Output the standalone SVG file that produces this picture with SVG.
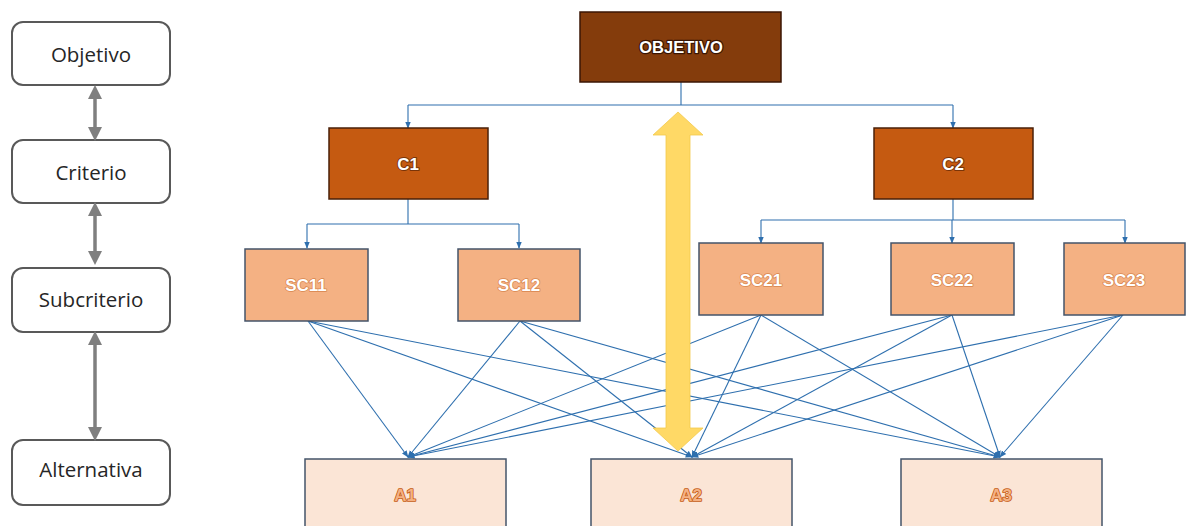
<svg xmlns="http://www.w3.org/2000/svg" width="1186" height="526" viewBox="0 0 1186 526">
<style>
.lvl{fill:#fff;stroke:#595959;stroke-width:2}
.lvlt{font-family:"Open Sans","Liberation Sans",sans-serif;font-size:20.5px;fill:#262626;text-anchor:middle}
.gar{stroke:#7f7f7f;stroke-width:3.5;fill:none;marker-start:url(#gh);marker-end:url(#gh)}
.obj{fill:#843c0c;stroke:#3b1604;stroke-width:1.5}
.crit{fill:#c55a11;stroke:#4a2008;stroke-width:1.5}
.sub{fill:#f4b183;stroke:#44546a;stroke-width:1.5}
.alt{fill:#fbe5d6;stroke:#44546a;stroke-width:1.5}
.wt{font-family:"Liberation Sans","Open Sans",sans-serif;font-weight:bold;fill:#fff;text-anchor:middle;paint-order:stroke;stroke-linejoin:round}
.at{font-family:"Liberation Sans",sans-serif;font-weight:bold;font-size:17px;fill:#f4b183;stroke:#c55a11;stroke-width:1.6;text-anchor:middle;paint-order:stroke;stroke-linejoin:round}
.bl{stroke:#2e6fae;stroke-width:1.1;fill:none}
.ba{stroke:#2e6fae;stroke-width:1.1;fill:none;marker-end:url(#bh)}
</style>
<defs>
<marker id="gh" viewBox="0 0 10 10" refX="5" refY="5" markerWidth="14" markerHeight="14" markerUnits="userSpaceOnUse" orient="auto-start-reverse">
<path d="M0,0 L10,5 L0,10 Z" fill="#7f7f7f"/>
</marker>
<marker id="bh" viewBox="0 0 10 10" refX="9" refY="5" markerWidth="7" markerHeight="7" markerUnits="userSpaceOnUse" orient="auto">
<path d="M0,1 L10,5 L0,9 Z" fill="#2e6fae"/>
</marker>
</defs>

<g id="legend-objetivo"><rect class="lvl" x="12" y="22" width="158" height="63" rx="11"/><text class="lvlt" x="91" y="62">Objetivo</text></g>
<g id="legend-criterio"><rect class="lvl" x="12" y="140" width="158" height="63" rx="11"/><text class="lvlt" x="91" y="180">Criterio</text></g>
<g id="legend-subcriterio"><rect class="lvl" x="12" y="268" width="158" height="64" rx="11"/><text class="lvlt" x="91" y="307">Subcriterio</text></g>
<g id="legend-alternativa"><rect class="lvl" x="12" y="440" width="158" height="65" rx="11"/><text class="lvlt" x="91" y="477">Alternativa</text></g>

<g id="legend-arrows">
<line class="gar" x1="95" y1="92" x2="95" y2="134"/>
<line class="gar" x1="95" y1="209" x2="95" y2="258"/>
<line class="gar" x1="95" y1="338" x2="95" y2="434"/>
</g>

<g id="connectors">
<path class="bl" d="M681,82 V105 M408,105 H953"/>
<path class="ba" d="M408,105 V128"/>
<path class="ba" d="M953,105 V128"/>
<path class="bl" d="M408,199 V224 M307,224 H519"/>
<path class="ba" d="M307,224 V248"/>
<path class="ba" d="M519,224 V248"/>
<path class="bl" d="M953,199 V220 M761,220 H1125"/>
<path class="ba" d="M761,220 V243"/>
<path class="ba" d="M952,220 V243"/>
<path class="ba" d="M1125,220 V243"/>
<line class="ba" x1="308" y1="321" x2="408" y2="457"/>
<line class="ba" x1="308" y1="321" x2="692" y2="457"/>
<line class="ba" x1="308" y1="321" x2="1000" y2="457"/>
<line class="ba" x1="520" y1="321" x2="408" y2="457"/>
<line class="ba" x1="520" y1="321" x2="692" y2="457"/>
<line class="ba" x1="520" y1="321" x2="1000" y2="457"/>
<line class="ba" x1="761" y1="315" x2="408" y2="457"/>
<line class="ba" x1="761" y1="315" x2="692" y2="457"/>
<line class="ba" x1="761" y1="315" x2="1000" y2="457"/>
<line class="ba" x1="952" y1="315" x2="408" y2="457"/>
<line class="ba" x1="952" y1="315" x2="692" y2="457"/>
<line class="ba" x1="952" y1="315" x2="1000" y2="457"/>
<line class="ba" x1="1123" y1="315" x2="408" y2="457"/>
<line class="ba" x1="1123" y1="315" x2="692" y2="457"/>
<line class="ba" x1="1123" y1="315" x2="1000" y2="457"/>
</g>

<g id="yellow-arrow">
<path d="M678,112 L703,135 L690,135 L690,428 L703,428 L678,451 L653,428 L666,428 L666,135 L653,135 Z" fill="#ffd966" stroke="#f2c94c" stroke-width="0.8"/>
</g>

<g id="objetivo"><rect class="obj" x="580" y="12" width="201" height="70"/><text class="wt" x="681" y="53" font-size="16.5" stroke="#3b1604" stroke-width="2.5">OBJETIVO</text></g>
<g id="c1"><rect class="crit" x="329" y="128" width="159" height="71"/><text class="wt" x="408" y="170" font-size="17" stroke="#7a3408" stroke-width="2">C1</text></g>
<g id="c2"><rect class="crit" x="874" y="128" width="159" height="71"/><text class="wt" x="953" y="170" font-size="17" stroke="#7a3408" stroke-width="2">C2</text></g>
<g id="sc11"><rect class="sub" x="245" y="249" width="123" height="72"/><text class="wt" x="306" y="291" font-size="17" stroke="#d9864e" stroke-width="1.5">SC11</text></g>
<g id="sc12"><rect class="sub" x="458" y="249" width="122" height="72"/><text class="wt" x="519" y="291" font-size="17" stroke="#d9864e" stroke-width="1.5">SC12</text></g>
<g id="sc21"><rect class="sub" x="699" y="243" width="124" height="72"/><text class="wt" x="761" y="286" font-size="17" stroke="#d9864e" stroke-width="1.5">SC21</text></g>
<g id="sc22"><rect class="sub" x="891" y="243" width="123" height="72"/><text class="wt" x="952" y="286" font-size="17" stroke="#d9864e" stroke-width="1.5">SC22</text></g>
<g id="sc23"><rect class="sub" x="1064" y="243" width="121" height="72"/><text class="wt" x="1124" y="286" font-size="17" stroke="#d9864e" stroke-width="1.5">SC23</text></g>
<g id="a1"><rect class="alt" x="305" y="459" width="201" height="80"/><text class="at" x="405" y="501">A1</text></g>
<g id="a2"><rect class="alt" x="591" y="459" width="201" height="80"/><text class="at" x="691" y="501">A2</text></g>
<g id="a3"><rect class="alt" x="901" y="459" width="201" height="80"/><text class="at" x="1001" y="501">A3</text></g>
</svg>
